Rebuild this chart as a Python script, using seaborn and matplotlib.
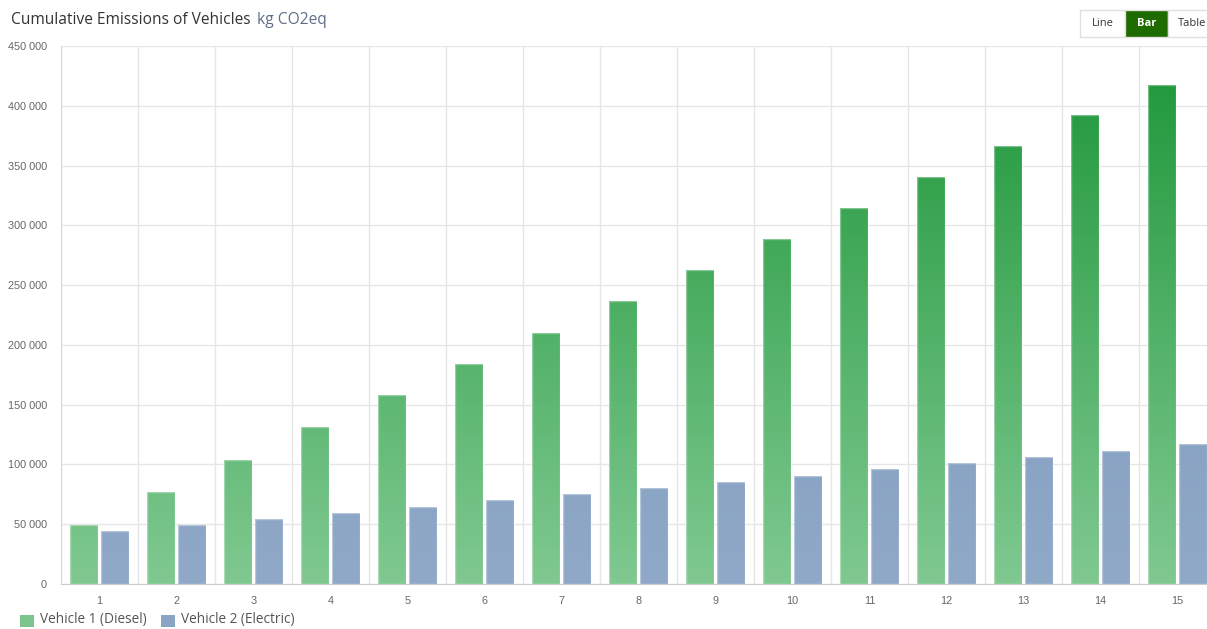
import numpy as np
import pandas as pd
import seaborn as sns
import matplotlib.pyplot as plt
from matplotlib.colors import LinearSegmentedColormap
from matplotlib.patches import Rectangle
from matplotlib.ticker import FuncFormatter, MultipleLocator

# Data (kg CO2eq, cumulative per year)
years = list(range(1, 16))
diesel = [49400, 77000, 103700, 131300, 158100, 184000, 209900, 236700,
          262600, 288600, 314500, 340400, 366300, 392300, 417400]
electric = [44300, 49400, 54400, 59400, 64400, 70300, 75300, 80300,
            85300, 90300, 96200, 101200, 106200, 111200, 117100]
series_names = ['Vehicle 1 (Diesel)', 'Vehicle 2 (Electric)']

df = pd.DataFrame({
    'Year': years * 2,
    'Emissions': diesel + electric,
    'Vehicle': [series_names[0]] * 15 + [series_names[1]] * 15,
})

W, H = 1207, 629
fig = plt.figure(figsize=(W / 100, H / 100), dpi=100)
sns.set_style('white')
plt.rcParams['font.family'] = ['Liberation Sans', 'DejaVu Sans']

# axes placed in pixel terms; the right end runs past the figure like the original
ax = fig.add_axes([61 / W, 45 / H, (1216 - 61) / W, 538 / H])
sns.barplot(data=df, x='Year', y='Emissions', hue='Vehicle',
            palette=['#7cc68e', '#8aa4c4'], width=0.8, gap=0.1,
            legend=False, ax=ax, edgecolor=(1, 1, 1, 0.35), linewidth=1)

ymax = 450000

# vertical gradient fills clipped to each bar
green_cmap = LinearSegmentedColormap.from_list('g', ['#80c991', '#1c9638'])
blue_cmap = LinearSegmentedColormap.from_list('b', ['#90a9c8', '#7692b8'])
grad = np.linspace(0, 1, 256).reshape(-1, 1)
bars = list(ax.patches)
for i, bar in enumerate(bars):
    cmap = green_cmap if i < 15 else blue_cmap
    x0 = bar.get_x()
    x1 = x0 + bar.get_width()
    im = ax.imshow(grad, cmap=cmap, extent=(x0, x1, 0, ymax), origin='lower',
                   aspect='auto', zorder=bar.get_zorder() - 0.01)
    im.set_clip_path(bar)
    bar.set_facecolor('none')
ax.set_xlim(-0.5, 14.5)
ax.set_ylim(0, ymax)

# grid and ticks
ax.yaxis.set_major_locator(MultipleLocator(50000))
ax.yaxis.set_major_formatter(FuncFormatter(lambda v, p: f'{int(v):,}'.replace(',', ' ')))
ax.set_xticks(range(15))
ax.set_xticklabels([str(y) for y in years])
ax.set_xticks(np.arange(-0.5, 15, 1), minor=True)
ax.grid(axis='y', color='#e6e6e6', linewidth=1)
ax.grid(axis='x', which='minor', color='#e6e6e6', linewidth=1)
ax.set_axisbelow(True)
ax.tick_params(axis='x', which='major', length=0, pad=9, labelsize=7.8, labelcolor='#666666')
ax.tick_params(axis='x', which='minor', length=6, color='#cccccc', width=1)
ax.tick_params(axis='y', length=6, color='#d9d9d9', width=1, pad=4,
               labelsize=7.8, labelcolor='#666666')
ax.set_xlabel('')
ax.set_ylabel('')
for side in ['top', 'right']:
    ax.spines[side].set_visible(False)
ax.spines['left'].set_color('#d9d9d9')
ax.spines['bottom'].set_color('#cccccc')

# title
fig.text(11 / W, 1 - 20 / H, 'Cumulative Emissions of Vehicles', family='Open Sans',
         fontsize=11.2, color='#333333', va='center', ha='left')
fig.text(257 / W, 1 - 20 / H, 'kg CO2eq', family='Open Sans',
         fontsize=11.2, color='#5f6e87', va='center', ha='left')

# Line / Bar / Table switch
buttons = [('Line', 1080, 1125, '#ffffff', '#333333'),
           ('Bar', 1125, 1168, '#1e6b00', '#ffffff'),
           ('Table', 1168, 1216, '#ffffff', '#333333')]
for label, bx0, bx1, bg, fg in buttons:
    fig.patches.append(Rectangle((bx0 / W, 1 - 37 / H), (bx1 - bx0) / W, 27 / H,
                                 transform=fig.transFigure, facecolor=bg,
                                 edgecolor='#e0e0e0', linewidth=1))
    fig.text((bx0 + bx1) / 2 / W, 1 - 23.5 / H, label, family='Open Sans',
             fontsize=8, color=fg, ha='center', va='center',
             fontweight='bold' if label == 'Bar' else 'normal')

# legend along the bottom edge
for name, sx, tx, col in [(series_names[0], 20, 40, '#7cc68e'),
                          (series_names[1], 161, 181, '#8aa4c4')]:
    fig.patches.append(Rectangle((sx / W, 1 - 627 / H), 14 / W, 12 / H,
                                 transform=fig.transFigure, facecolor=col,
                                 edgecolor='none'))
    fig.text(tx / W, 1 - 620 / H, name, family='Open Sans', fontsize=9.8,
             color='#555555', ha='left', va='center')

fig.savefig('out.png', dpi=100)
